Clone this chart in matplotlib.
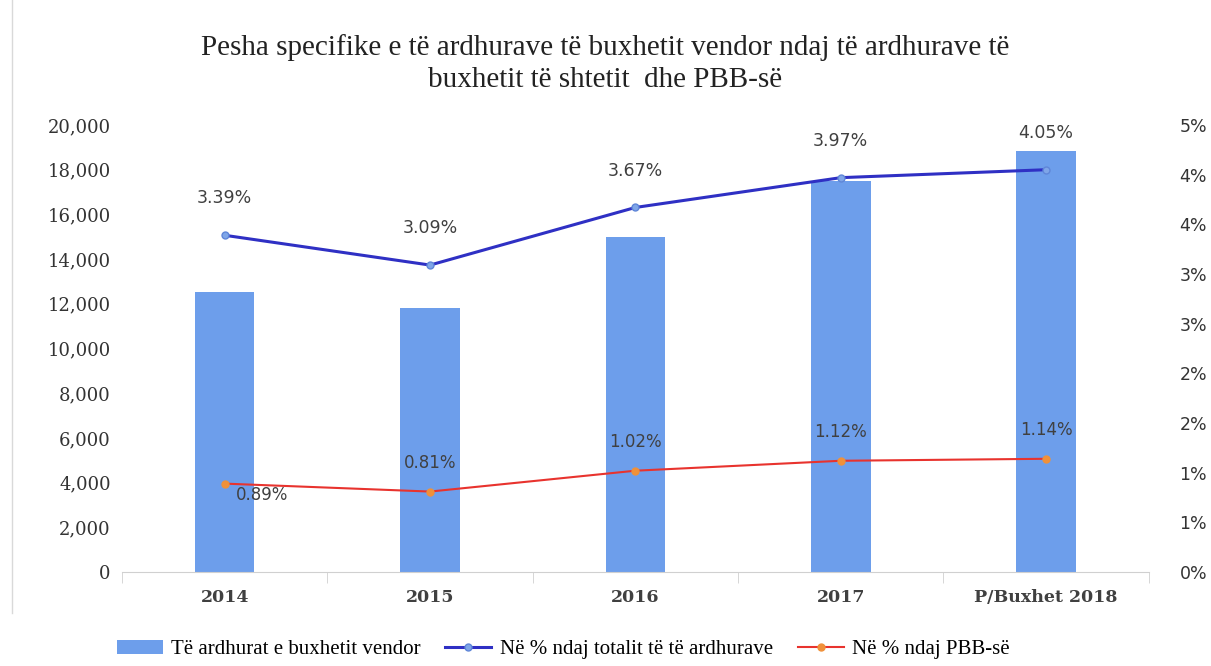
import numpy as np
import math
import matplotlib
matplotlib.use("Agg")
import matplotlib.pyplot as plt
from matplotlib.ticker import FuncFormatter, FixedLocator

years = ["2014", "2015", "2016", "2017", "P/Buxhet 2018"]
revenue = [12540, 11810, 14990, 17490, 18840]
pct_total = [3.39, 3.09, 3.67, 3.97, 4.05]
pct_gdp = [0.89, 0.81, 1.02, 1.12, 1.14]

bar_color = "#6d9eeb"
blue_line = "#2f30c4"
red_line = "#e8332e"
label_color = "#404040"

fig = plt.figure(figsize=(12.11, 6.66), dpi=100)
ax = fig.add_axes([0.1007, 0.1411, 0.848, 0.6712])
ax2 = ax.twinx()

x = np.arange(len(years))
bars = ax.bar(x, revenue, width=0.29, color=bar_color, zorder=1,
              label="Të ardhurat e buxhetit vendor")
ax.set_xlim(-0.5, len(years) - 0.5)
ax.set_ylim(0, 20000)
ax.set_yticks(np.arange(0, 20001, 2000))
ax.yaxis.set_major_formatter(FuncFormatter(lambda v, p: f"{int(v):,}"))

l1, = ax2.plot(x, pct_total, color=blue_line, lw=2.2, marker="o", ms=5,
               mfc="#7fa6e8", mec="#5f86d8", label="Në % ndaj totalit të të ardhurave")
l2, = ax2.plot(x, pct_gdp, color=red_line, lw=1.5, marker="o", ms=5,
               mfc="#f0913a", mec="#f0913a", label="Në % ndaj PBB-së")
ax2.set_ylim(0, 4.5)
ax2.set_yticks(np.arange(0, 4.51, 0.5))
ax2.yaxis.set_major_formatter(FuncFormatter(lambda v, p: f"{int(math.floor(v + 0.5))}%"))

for i, v in enumerate(pct_total):
    ax2.annotate(f"{v:.2f}%", (x[i], v), xytext=(0, 20), textcoords="offset points",
                 ha="center", va="bottom", fontsize=12.5, color=label_color)
for i, v in enumerate(pct_gdp):
    if i == 0:
        ax2.annotate(f"{v:.2f}%", (x[i], v), xytext=(8, -2), textcoords="offset points",
                     ha="left", va="top", fontsize=12, color=label_color)
    else:
        ax2.annotate(f"{v:.2f}%", (x[i], v), xytext=(0, 14), textcoords="offset points",
                     ha="center", va="bottom", fontsize=12, color=label_color)

for a in (ax, ax2):
    for s in ("top", "left", "right"):
        a.spines[s].set_visible(False)
    a.spines["bottom"].set_color("#d0d0d0")
ax2.spines["bottom"].set_visible(False)

ax.set_xticks(x)
ax.set_xticklabels(years, fontfamily="DejaVu Serif", fontweight="bold", fontsize=12.5,
                   color="#404040")
ax.xaxis.set_minor_locator(FixedLocator(np.arange(-0.5, len(years), 1.0)))
ax.tick_params(axis="x", which="major", length=0, pad=12)
ax.tick_params(axis="x", which="minor", length=8, color="#d0d0d0")
ax.tick_params(axis="y", length=0, labelsize=13, labelcolor="#333333", pad=8)
for t in ax.get_yticklabels():
    t.set_fontfamily("DejaVu Serif")
ax2.tick_params(axis="y", length=0, labelsize=12.5, labelcolor="#333333", pad=22)

fig.text(0.5, 0.905, "Pesha specifike e të ardhurave të buxhetit vendor ndaj të ardhurave të\nbuxhetit të shtetit  dhe PBB-së",
         ha="center", va="center", fontsize=21, family="Liberation Serif",
         color="#222222", linespacing=1.32)

fig.legend(handles=[bars, l1, l2], loc="lower center", bbox_to_anchor=(0.465, -0.018),
           ncol=3, frameon=False, prop={"family": "Liberation Serif", "size": 15},
           handlelength=2.2, columnspacing=1.2, handletextpad=0.4)

fig.add_artist(plt.Line2D([0.01, 0.01], [0.08, 1.0], transform=fig.transFigure,
                          color="#d9d9d9", lw=1))

fig.savefig("out.png", dpi=100)
